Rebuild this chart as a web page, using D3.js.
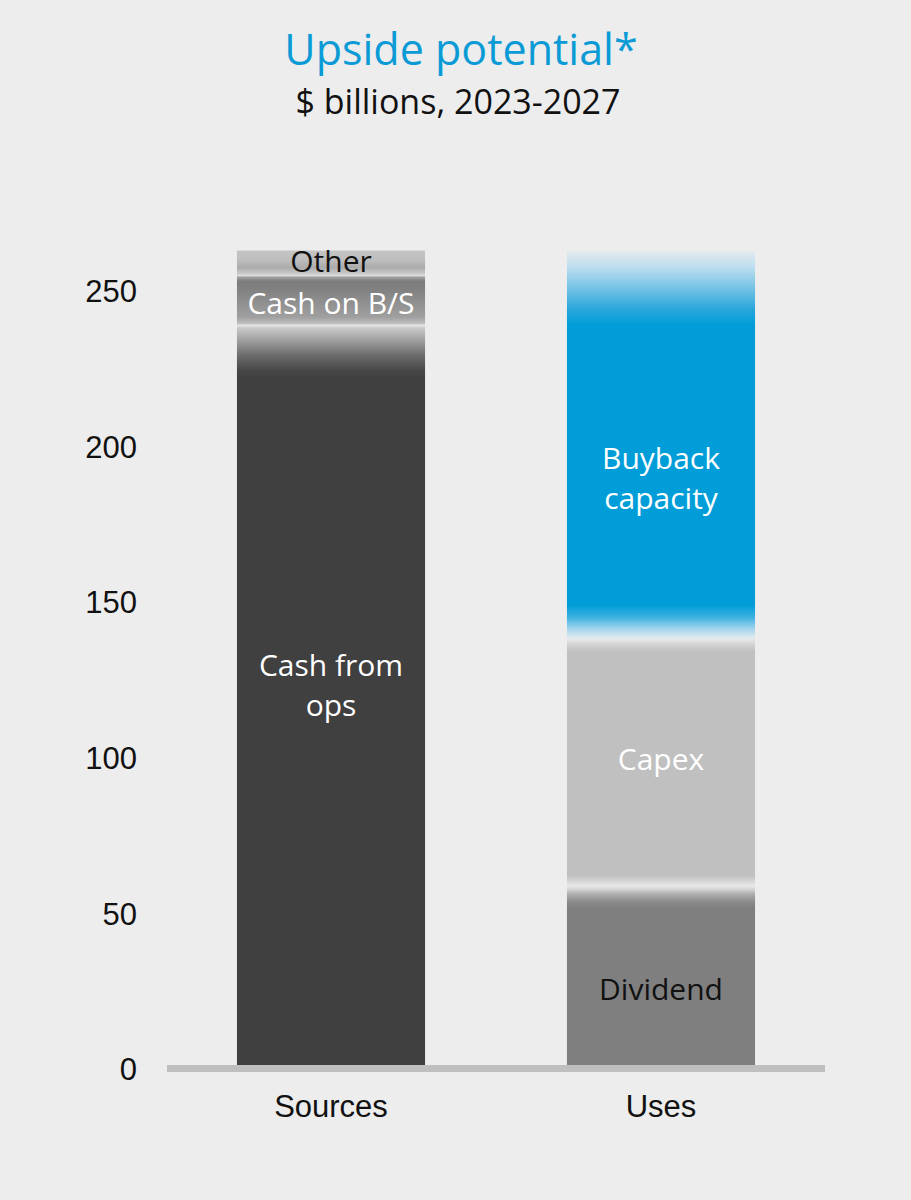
<!DOCTYPE html>
<html>
<head>
<meta charset="utf-8">
<script src="https://cdn.jsdelivr.net/npm/d3@7"></script>
<style>
  html, body { margin: 0; padding: 0; background: #ededed; }
  svg { display: block; }
</style>
</head>
<body>
<svg id="chart" width="911" height="1200"></svg>
<script>
// ---- Data ($ billions, 2023-2027) ----
const categories = ["Sources", "Uses"];
const sourcesSegments = ["Cash from ops", "Cash on B/S", "Other"];
const sourcesValues = [239, 16, 8];
const usesSegments = ["Dividend", "Capex", "Buyback capacity"];
const usesValues = [59, 79, 125];
const yTicks = [0, 50, 100, 150, 200, 250];
const titleText = "Upside potential*";
const subtitleText = "$ billions, 2023-2027";

// ---- Layout & style ----
const W = 911, H = 1200;
const bg = "#ededed";
const blue = "#009dd8";
const humanist = "'Open Sans', 'Noto Sans', sans-serif";
const arial = "'Liberation Sans', Arial, sans-serif";

const svg = d3.select("#chart");
svg.append("rect").attr("width", W).attr("height", H).attr("fill", bg);

const x = d3.scaleBand().domain(categories).range([167, 825])
  .paddingInner(0.43).paddingOuter(0.212);
const y = d3.scaleLinear().domain([0, 250]).range([1069.5, 291]);

const bars = [
  { cat: "Sources", names: sourcesSegments, values: sourcesValues },
  { cat: "Uses", names: usesSegments, values: usesValues }
];

// Stack each bar's segments
bars.forEach(b => {
  let acc = 0;
  b.segs = b.names.map((n, i) => {
    const s = { name: n, y0: acc, y1: acc + b.values[i] };
    acc += b.values[i];
    return s;
  });
  b.total = acc;
});

// Blended transitions between segments: stops anchored on segment edges
// ("base", "top", or boundary index k), shifted by a pixel offset.
const blendStops = {
  Sources: [
    ["top", 0, "#c5c5c5"], ["top", 10, "#bdbdbd"],
    [1, -8, "#ababab"], [1, -2, "#c9c9c9"], [1, 0, "#dadada"], [1, 2, "#a0a0a0"],
    [1, 6, "#7c7c7c"], [1, 12, "#7f7f7f"],
    [0, -8, "#a0a0a0"], [0, -2, "#bdbdbd"], [0, 0, "#e4e4e4"], [0, 3, "#c8c8c8"],
    [0, 15, "#a0a0a0"], [0, 30, "#6c6c6c"], [0, 45, "#474747"], [0, 53, "#404040"],
    ["base", 0, "#404040"]
  ],
  Uses: [
    ["top", 0, "#e6ebee"], ["top", 18, "#b8dcee"], ["top", 38, "#74c3e6"],
    ["top", 58, "#2ba7dc"], ["top", 75, blue],
    [1, -35, blue], [1, -22, "#40b2e0"], [1, -12, "#9ad2ec"], [1, -3, "#dae8ee"],
    [1, 0, "#e6e6e6"], [1, 5, "#d2d2d2"], [1, 12, "#c0c0c0"],
    [0, -10, "#c0c0c0"], [0, -4, "#d8d8d8"], [0, 0, "#e8e8e8"], [0, 3, "#d8d8d8"],
    [0, 8, "#b0b0b0"], [0, 16, "#8c8c8c"], [0, 22, "#7f7f7f"],
    ["base", 0, "#7f7f7f"]
  ]
};

const defs = svg.append("defs");
bars.forEach(b => {
  const yTop = y(b.total), yBase = y(0);
  const anchor = a => a === "top" ? yTop : a === "base" ? yBase : y(b.segs[a].y1);
  const stops = blendStops[b.cat]
    .map(([a, d, c]) => ({ off: (anchor(a) + d - yTop) / (yBase - yTop), c }))
    .sort((p, q) => p.off - q.off);
  const g = defs.append("linearGradient")
    .attr("id", "grad-" + b.cat)
    .attr("gradientUnits", "userSpaceOnUse")
    .attr("x1", 0).attr("x2", 0).attr("y1", yTop).attr("y2", yBase);
  g.selectAll("stop").data(stops).join("stop")
    .attr("offset", d => Math.max(0, Math.min(1, d.off)))
    .attr("stop-color", d => d.c);
});

// Segments
const barG = svg.append("g");
bars.forEach(b => {
  barG.selectAll(null).data(b.segs).join("rect")
    .attr("x", x(b.cat))
    .attr("width", x.bandwidth())
    .attr("y", d => y(d.y1))
    .attr("height", d => y(d.y0) - y(d.y1))
    .attr("fill", "url(#grad-" + b.cat + ")");
});

// Baseline
svg.append("rect")
  .attr("x", 167).attr("width", 658)
  .attr("y", y(0) - 4.5).attr("height", 7)
  .attr("fill", "#bfbfbf");

// Y tick labels
svg.append("g").selectAll("text").data(yTicks).join("text")
  .attr("x", 137).attr("y", d => y(d)).attr("dy", "0.35em")
  .attr("text-anchor", "end")
  .attr("font-family", arial).attr("font-size", 31).attr("fill", "#111")
  .text(d => d);

// Category labels
svg.append("g").selectAll("text").data(categories).join("text")
  .attr("x", d => x(d) + x.bandwidth() / 2).attr("y", 1117)
  .attr("text-anchor", "middle")
  .attr("font-family", arial).attr("font-size", 31).attr("fill", "#111")
  .text(d => d);

// Segment labels
const labelStyle = {
  "Cash from ops": { lines: ["Cash from", "ops"], color: "#fff", dy: -12 },
  "Cash on B/S": { lines: ["Cash on B/S"], color: "#fff", dy: 3 },
  "Other": { lines: ["Other"], color: "#111", dy: -2 },
  "Dividend": { lines: ["Dividend"], color: "#111", dy: 11.5 },
  "Capex": { lines: ["Capex"], color: "#fff", dy: -3.5 },
  "Buyback capacity": { lines: ["Buyback", "capacity"], color: "#fff", dy: 33 }
};
const fs = 30, lineH = 40;
bars.forEach(b => {
  b.segs.forEach(s => {
    const st = labelStyle[s.name];
    const cy = y((s.y0 + s.y1) / 2) + st.dy;
    const n = st.lines.length;
    const t = svg.append("text")
      .attr("text-anchor", "middle")
      .attr("font-family", humanist).attr("font-size", fs)
      .attr("fill", st.color);
    st.lines.forEach((ln, i) => {
      t.append("tspan")
        .attr("x", x(b.cat) + x.bandwidth() / 2)
        .attr("y", cy + (i - (n - 1) / 2) * lineH + 0.36 * fs)
        .text(ln);
    });
  });
});

// Title
svg.append("text")
  .attr("x", 461).attr("y", 65).attr("text-anchor", "middle")
  .attr("font-family", humanist).attr("font-size", 43).attr("fill", "#0a9bd6")
  .text(titleText);
svg.append("text")
  .attr("x", 458).attr("y", 114).attr("text-anchor", "middle")
  .attr("font-family", humanist).attr("font-size", 34).attr("fill", "#111")
  .text(subtitleText);
</script>
</body>
</html>
